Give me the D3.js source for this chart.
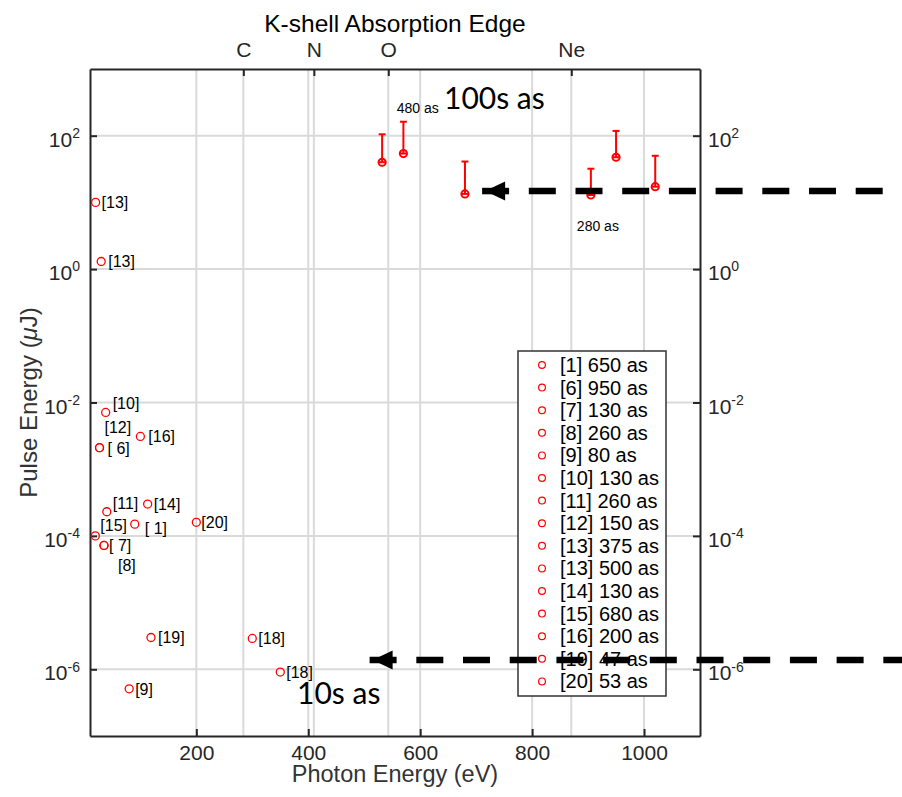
<!DOCTYPE html>
<html>
<head>
<meta charset="utf-8">
<script src="https://cdn.jsdelivr.net/npm/d3@7"></script>
<style>
  body { margin: 0; background: #fff; }
  svg text { font-family: "Liberation Sans", Arial, Helvetica, sans-serif; }
</style>
</head>
<body>
<div id="chart"></div>
<script>
// table data: published isolated attosecond pulses (photon energy vs pulse energy)
let refLabels = ["[13]", "[13]", "[10]", "[12]", "[ 6]", "[16]", "[11]", "[14]", "[ 1]", "[20]", "[15]", "[ 7]", "[8]", "[19]", "[18]", "[18]", "[9]"];
let photonEV = [20, 30, 38, 27, 27, 100, 40, 113, 90, 200, 19.5, 35, 35, 119, 300, 350, 80];
let pulseUJ = [10, 1.3, 0.0071, 0.0021, 0.0021, 0.0031, 2.3e-4, 3.0e-4, 1.5e-4, 1.6e-4, 1.0e-4, 7.2e-5, 7.2e-5, 3.0e-6, 2.9e-6, 9.1e-7, 5.1e-7];
// hand nudges for the labels (px), like the figure
let labelDx = [6, 7, 7, 5, 8, 8, 6, 6, 10, 5, 5, 5, 14, 7, 6, 6, 6];
let labelDy = [0, 0, -9, -20, 1, 0, -9, 0, 4, 0, -11, 0, 20, 0, 0, 0, 0];

// XFEL attosecond results (only upper error)
let felEV = [532, 570, 680, 905, 950, 1020];
let felUJ = [40, 54, 13.4, 12.9, 47.5, 17.2];
let felUpper = [105, 162, 41, 32, 118, 50];

let legendNames = ["[1] 650 as", "[6] 950 as", "[7] 130 as", "[8] 260 as", "[9] 80 as", "[10] 130 as", "[11] 260 as",
    "[12] 150 as", "[13] 375 as", "[13] 500 as", "[14] 130 as", "[15] 680 as", "[16] 200 as", "[19] 47 as", "[20] 53 as"];

let xTicks = [200, 400, 600, 800, 1000];
let yTicks = [1e-6, 1e-4, 1e-2, 1, 1e2];
let edgeNames = ["C", "N", "O", "Ne"];
let edgeEV = [284, 410, 543, 870];

// dashed arrows: level and tip
let arrowUJ = [14.8, 1.38e-6];
let arrowTipEV = [716, 515];

//Options
let W = 902, H = 797;
let pLeft = 90, pRight = 700, pTop = 69, pBottom = 736;
let axColor = "#262626";
let gridColor = "#dadada";
let red = "#ff0000";

let svg = d3.select("#chart").append("svg")
    .attr("width", W)
    .attr("height", H);

let x = d3.scaleLinear().domain([10, 1100]).range([pLeft, pRight]);
let y = d3.scaleLog().domain([1e-7, 1e3]).range([pBottom, pTop]);

// grid
let grid = svg.append("g").attr("id", "grid")
    .attr("stroke", gridColor)
    .attr("stroke-width", 2);
grid.selectAll(".vg")
    .data(xTicks.concat(edgeEV))
    .join("line")
        .attr("class", "vg")
        .attr("x1", d => x(d)).attr("x2", d => x(d))
        .attr("y1", pTop).attr("y2", pBottom);
grid.selectAll(".hg")
    .data(yTicks)
    .join("line")
        .attr("class", "hg")
        .attr("x1", pLeft).attr("x2", pRight)
        .attr("y1", d => y(d)).attr("y2", d => y(d));

// axes
function styleAxis(g) {
    g.select(".domain").attr("stroke", axColor).attr("stroke-width", 2);
    g.selectAll(".tick line").attr("stroke", axColor).attr("stroke-width", 2);
    g.selectAll(".tick text").attr("fill", axColor);
}

function powerLabels(g) {
    g.selectAll(".tick text").each(function(d) {
        let t = d3.select(this);
        t.text("").attr("dy", "0.5em").style("font-size", "21px");
        t.append("tspan").text("10");
        t.append("tspan").text(Math.round(Math.log10(d)))
            .attr("dy", "-0.62em")
            .style("font-size", "14px");
    });
}

let xAx = svg.append("g")
    .attr("transform", `translate(0,${pBottom})`)
    .call(d3.axisBottom(x).tickValues(xTicks).tickFormat(d3.format("d"))
        .tickSizeInner(-7).tickSizeOuter(0).tickPadding(9));
xAx.selectAll(".tick text").style("font-size", "21px").attr("dy", "0.71em");
styleAxis(xAx);

let topAx = svg.append("g")
    .attr("transform", `translate(0,${pTop})`)
    .call(d3.axisTop(x).tickValues(edgeEV).tickFormat((d, i) => edgeNames[i])
        .tickSizeInner(-7).tickSizeOuter(0).tickPadding(12));
topAx.selectAll(".tick text").style("font-size", "21px");
styleAxis(topAx);

let yAx = svg.append("g")
    .attr("transform", `translate(${pLeft},0)`)
    .call(d3.axisLeft(y).tickValues(yTicks).tickSizeInner(-7).tickSizeOuter(0).tickPadding(10));
powerLabels(yAx);
styleAxis(yAx);

let yAxR = svg.append("g")
    .attr("transform", `translate(${pRight},0)`)
    .call(d3.axisRight(y).tickValues(yTicks).tickSizeInner(-7).tickSizeOuter(0).tickPadding(8));
powerLabels(yAxR);
styleAxis(yAxR);

// axis titles
svg.append("text")
    .attr("x", (pLeft + pRight) / 2).attr("y", 32)
    .attr("text-anchor", "middle")
    .style("font-size", "24.5px")
    .attr("fill", "#000")
    .text("K-shell Absorption Edge");

svg.append("text")
    .attr("x", (pLeft + pRight) / 2).attr("y", 782)
    .attr("text-anchor", "middle")
    .style("font-size", "23.5px")
    .attr("fill", "#333")
    .text("Photon Energy (eV)");

let yTitle = svg.append("text")
    .attr("transform", `translate(37,${(pTop + pBottom) / 2}) rotate(-90)`)
    .attr("text-anchor", "middle")
    .style("font-size", "24px")
    .attr("fill", "#333");
yTitle.append("tspan").text("Pulse Energy (");
yTitle.append("tspan").text("\u03bc").style("font-style", "italic");
yTitle.append("tspan").text("J)");

// scatter of references
let pts = svg.append("g").attr("id", "points");
pts.selectAll("circle")
    .data(photonEV)
    .join("circle")
        .attr("cx", d => x(d))
        .attr("cy", (d, i) => y(pulseUJ[i]))
        .attr("r", 4)
        .attr("fill", "none")
        .attr("stroke", red)
        .attr("stroke-width", 1.3);
pts.selectAll("text")
    .data(refLabels)
    .join("text")
        .attr("x", (d, i) => x(photonEV[i]) + labelDx[i])
        .attr("y", (d, i) => y(pulseUJ[i]) + labelDy[i])
        .attr("dy", "0.36em")
        .style("font-size", "16px")
        .attr("fill", "#000")
        .text(d => d);

// XFEL points with upper error bars
let fel = svg.append("g").attr("id", "fel")
    .attr("stroke", red)
    .attr("stroke-width", 2)
    .attr("fill", "none");
let capW = 3.5;
felEV.forEach(function(e, i) {
    let cx = x(e), cy = y(felUJ[i]), cu = y(felUpper[i]);
    fel.append("line").attr("x1", cx).attr("x2", cx).attr("y1", cy).attr("y2", cu);
    fel.append("line").attr("x1", cx - capW).attr("x2", cx + capW).attr("y1", cu).attr("y2", cu);
    fel.append("line").attr("x1", cx - capW).attr("x2", cx + capW).attr("y1", cy).attr("y2", cy);
    fel.append("circle").attr("cx", cx).attr("cy", cy).attr("r", 3.6);
});

// annotations
svg.append("text").attr("x", x(558)).attr("y", 113)
    .style("font-size", "14px").text("480 as");
svg.append("text").attr("x", x(905) - 14).attr("y", 231)
    .style("font-size", "14px").text("280 as");
svg.append("text").attr("x", 444).attr("y", 109)
    .style("font-family", "Lato, 'Open Sans', sans-serif")
    .style("font-size", "30px").text("100s as");
svg.append("text").attr("x", 297).attr("y", 704)
    .style("font-family", "Lato, 'Open Sans', sans-serif")
    .style("font-size", "30px").text("10s as");

// legend
let lg = svg.append("g").attr("id", "legend");
let lgX = 518, lgY = 351, lgW = 148, rowH = 22.6;
lg.append("rect")
    .attr("x", lgX).attr("y", lgY)
    .attr("width", lgW).attr("height", legendNames.length * rowH + 6)
    .attr("fill", "#fff")
    .attr("stroke", "#333")
    .attr("stroke-width", 1.5);
let rows = lg.selectAll(".row")
    .data(legendNames)
    .join("g")
        .attr("class", "row")
        .attr("transform", (d, i) => `translate(${lgX},${lgY + 14 + i * rowH})`);
rows.append("circle")
    .attr("cx", 24).attr("r", 3.4)
    .attr("fill", "none").attr("stroke", red).attr("stroke-width", 1.2);
rows.append("text")
    .attr("x", 42).attr("dy", "0.35em")
    .style("font-size", "20px")
    .attr("fill", "#000")
    .text(d => d);

// dashed arrows, running out past the right axis
let arrows = svg.append("g").attr("id", "arrows");
arrowUJ.forEach(function(v, i) {
    let ay = y(v), tip = x(arrowTipEV[i]);
    arrows.append("line")
        .attr("x1", tip - 3).attr("x2", W)
        .attr("y1", ay).attr("y2", ay)
        .attr("stroke", "#000")
        .attr("stroke-width", 6.5)
        .attr("stroke-dasharray", "27,19.7");
    arrows.append("path")
        .attr("d", `M${tip},${ay} L${tip + 20},${ay - 9.5} L${tip + 20},${ay + 9.5} Z`)
        .attr("fill", "#000");
});
</script>
</body>
</html>
